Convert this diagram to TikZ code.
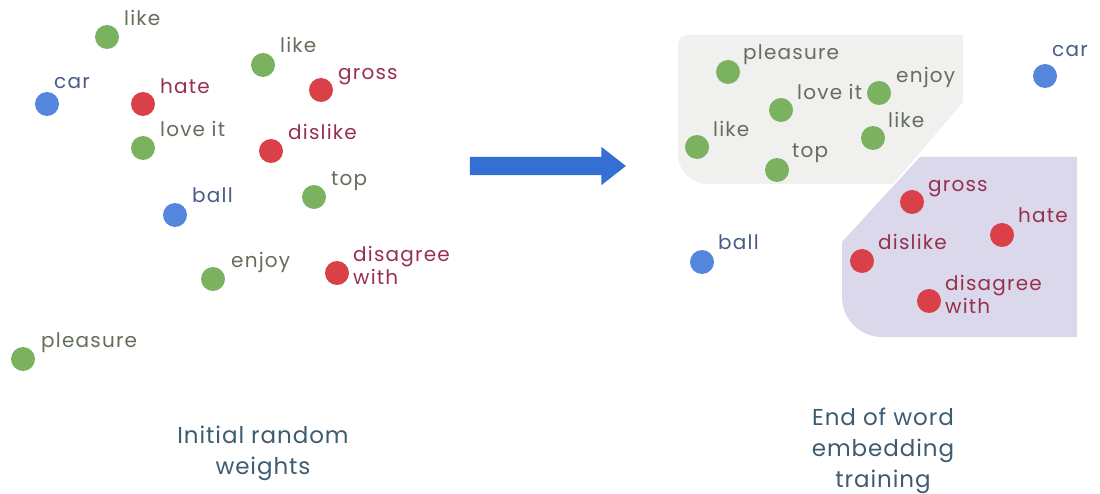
\documentclass[tikz,border=0pt]{standalone}
\usepackage{fontspec}
\setmainfont{Poppins}
\usetikzlibrary{calc,shapes.arrows}
\definecolor{dotg}{RGB}{122,178,96}
\definecolor{txtg}{RGB}{100,110,92}
\definecolor{dotr}{RGB}{218,64,72}
\definecolor{txtr}{RGB}{150,48,78}
\definecolor{dotb}{RGB}{84,134,222}
\definecolor{txtb}{RGB}{72,92,135}
\definecolor{cluster}{RGB}{240,240,238}
\definecolor{lilac}{RGB}{220,216,236}
\definecolor{flow}{RGB}{52,112,212}
\definecolor{caption}{RGB}{62,92,112}

\begin{document}
\begin{tikzpicture}[x=1pt,y=-1pt,
    wdot/.style={circle,minimum size=24pt,inner sep=0pt},
    word/.style={anchor=base west,align=left,inner sep=0pt,
      font=\fontsize{20}{23}\selectfont\addfontfeatures{LetterSpace=6}}]
  \useasboundingbox (0,0) rectangle (1100,494);
  \fill[cluster] (963,35) -- (963,102) -- (893,184) [rounded corners=30] -- (678,184) [rounded corners=10] -- (678,35) [sharp corners] -- cycle;
  \fill[lilac] (920,157) -- (1077,157) -- (1077,337) [rounded corners=40] -- (842,337) [sharp corners] -- (842,242) -- cycle;
  \foreach \n/\x/\y/\c/\t/\dx/\dy in {
    L1/107/37/g/like/17/-11, L2/47/104/b/car/7/-15, L3/143/104/r/hate/17/-10,
    L4/143/148/g/love it/17/-11, L5/263/65/g/like/17/-12, L6/321/90/r/gross/17/-10,
    L7/271/151/r/dislike/17/-11, L8/175/215/b/ball/17/-12, L9/314/197/g/top/17/-11,
    L10/213/279/g/enjoy/18/-11, L11/337/273/r/disagree\\with/16/12, L12/23/359/g/pleasure/18/-12,
    R1/728/72/g/pleasure/15/-12, R2/781/110/g/love it/16/-10, R3/879/93/g/enjoy/17/-10,
    R4/697/147/g/like/16/-10, R5/777/170/g/top/15/-12, R6/873/138/g/like/15/-10,
    R7/1045/76/b/car/7/-19, R8/702/262/b/ball/16/-12, R9/912/202/r/gross/16/-10,
    R10/1002/235/r/hate/16/-12, R11/862/261/r/dislike/16/-11, R12/929/301/r/disagree\\with/16/12}
  {
    \node[wdot,fill=dot\c] (\n) at (\x,\y) {};
    \node[word,text=txt\c] (\n-w) at ($(\n)+(\dx,\dy)$) {\t};
  }
  \node[single arrow,fill=flow,inner sep=9pt,minimum width=38pt,minimum height=156pt,
    single arrow head extend=10pt,single arrow tip angle=76] (flow) at (542,166) {};
  \node[font=\fontsize{23}{31}\selectfont\addfontfeatures{LetterSpace=4},text=caption,align=center] (before) at (263,453) {Initial random\\weights};
  \node[font=\fontsize{23}{31}\selectfont\addfontfeatures{LetterSpace=4},text=caption,align=center] (after) at (883,451) {End of word\\embedding\\training};
\end{tikzpicture}
\end{document}
